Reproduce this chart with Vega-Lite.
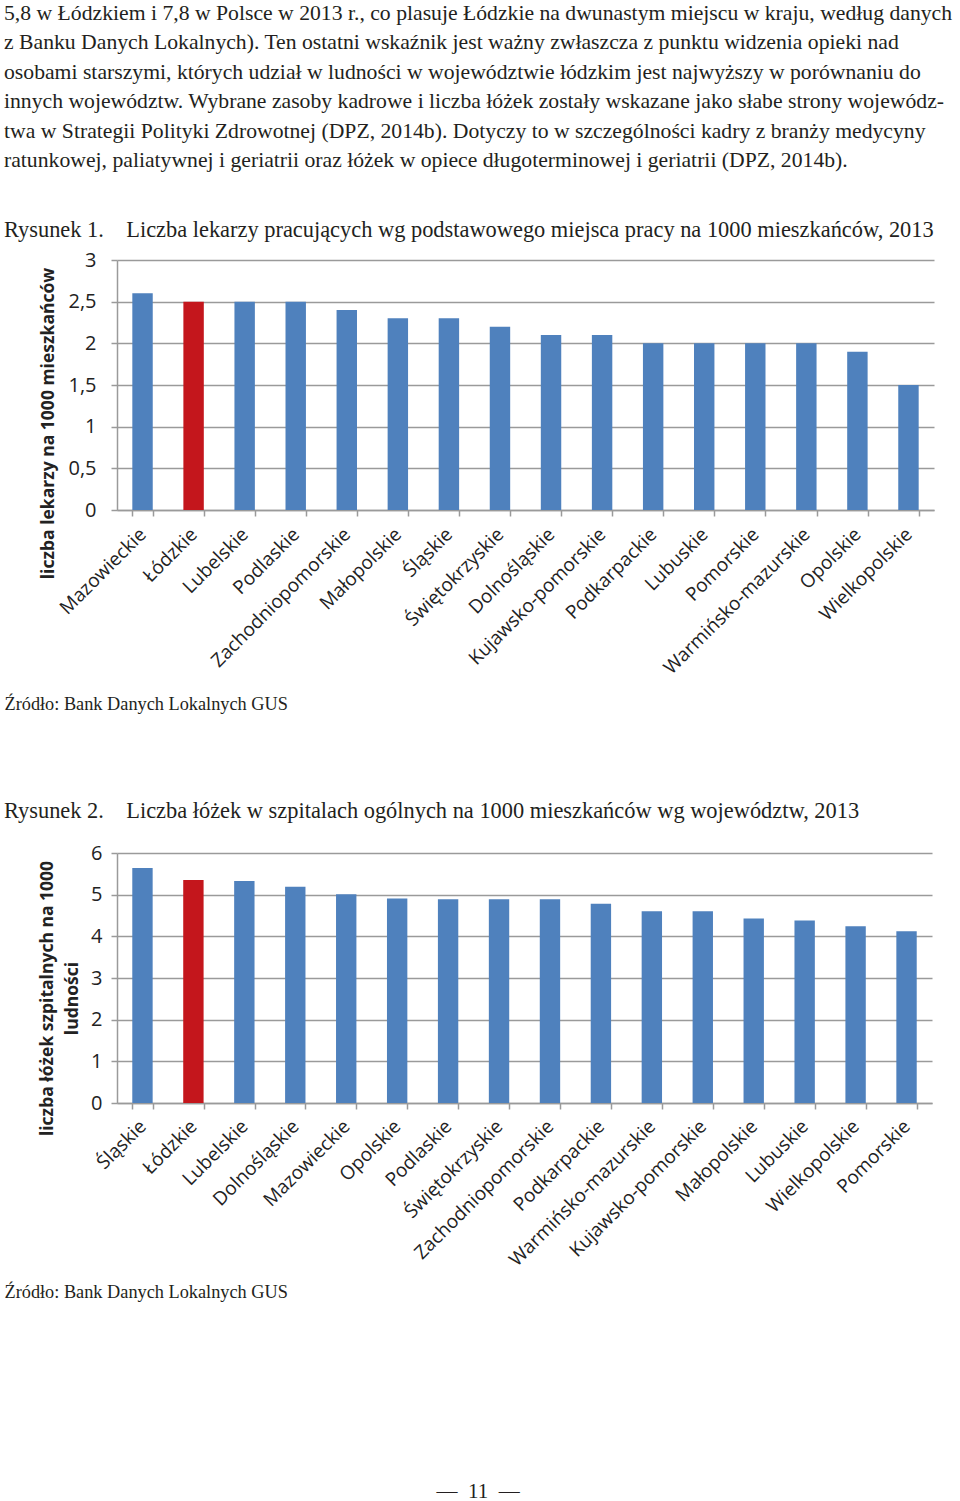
{
  "$schema": "https://vega.github.io/schema/vega-lite/v6.json",
  "padding": {"left": 4, "top": 2, "right": 0, "bottom": 0},
  "background": "white",
  "config": {
    "view": {"stroke": null},
    "axis": {
      "labelFont": "Open Sans", "labelFontSize": 19, "labelColor": "#222222", "labelLimit": 0,
      "titleFont": "Open Sans", "titleFontSize": 17.5, "titleFontWeight": "bold", "titleColor": "#222222",
      "domainColor": "#9a9a9a", "domainWidth": 1.5, "tickColor": "#9a9a9a", "tickWidth": 1.5,
      "gridColor": "#9a9a9a", "gridWidth": 1.5, "gridOpacity": 1
    },
    "title": {"font": "Liberation Serif", "fontWeight": "normal", "color": "#231f20"}
  },
  "title": {"text": "—\u00a0\u00a011\u00a0\u00a0—", "orient": "bottom", "anchor": "middle", "offset": 181, "fontSize": 21, "font": "Liberation Serif", "fontWeight": "normal"},
  "vconcat": [
    {
      "title": {
        "text": [
          "5,8 w Łódzkiem i 7,8 w Polsce w 2013 r., co plasuje Łódzkie na dwunastym miejscu w kraju, według danych",
          "z Banku Danych Lokalnych). Ten ostatni wskaźnik jest ważny zwłaszcza z punktu widzenia opieki nad",
          "osobami starszymi, których udział w ludności w województwie łódzkim jest najwyższy w porównaniu do",
          "innych województw. Wybrane zasoby kadrowe i liczba łóżek zostały wskazane jako słabe strony wojewódz-",
          "twa w Strategii Polityki Zdrowotnej (DPZ, 2014b). Dotyczy to w szczególności kadry z branży medycyny",
          "ratunkowej, paliatywnej i geriatrii oraz łóżek w opiece długoterminowej i geriatrii (DPZ, 2014b)."
        ],
        "anchor": "start", "orient": "top", "fontSize": 21.7, "lineHeight": 29.5, "offset": 47,
        "font": "Liberation Serif", "fontWeight": "normal"
      },
      "spacing": 86,
      "vconcat": [
        {
          "width": 817, "height": 250,
          "title": {"text": "Rysunek 1.\u00a0\u00a0\u00a0 Liczba lekarzy pracujących wg podstawowego miejsca pracy na 1000 mieszkańców, 2013", "anchor": "start", "fontSize": 22.4, "offset": 8.5},
          "data": {"values": [
            {"woj": "Mazowieckie", "v": 2.6},
            {"woj": "Łódzkie", "v": 2.5},
            {"woj": "Lubelskie", "v": 2.5},
            {"woj": "Podlaskie", "v": 2.5},
            {"woj": "Zachodniopomorskie", "v": 2.4},
            {"woj": "Małopolskie", "v": 2.3},
            {"woj": "Śląskie", "v": 2.3},
            {"woj": "Świętokrzyskie", "v": 2.2},
            {"woj": "Dolnośląskie", "v": 2.1},
            {"woj": "Kujawsko-pomorskie", "v": 2.1},
            {"woj": "Podkarpackie", "v": 2.0},
            {"woj": "Lubuskie", "v": 2.0},
            {"woj": "Pomorskie", "v": 2.0},
            {"woj": "Warmińsko-mazurskie", "v": 2.0},
            {"woj": "Opolskie", "v": 1.9},
            {"woj": "Wielkopolskie", "v": 1.5}
          ]},
          "mark": {"type": "bar"},
          "encoding": {
            "x": {"field": "woj", "type": "nominal", "sort": null,
              "scale": {"paddingInner": 0.6, "paddingOuter": 0.3},
              "axis": {"labelAngle": -45, "labelAlign": "right", "labelBaseline": "middle", "labelPadding": 15, "tickSize": 6, "tickBand": "extent",
                "title": "Źródło: Bank Danych Lokalnych GUS", "titleX": -113, "titleY": 194, "titleAlign": "left", "titleBaseline": "middle", "titleAnchor": "start",
                "titleFont": "Liberation Serif", "titleFontSize": 18.3, "titleFontWeight": "normal", "titleColor": "#231f20"}},
            "y": {"field": "v", "type": "quantitative", "scale": {"domain": [0, 3]},
              "axis": {"values": [0, 0.5, 1, 1.5, 2, 2.5, 3], "labelExpr": "replace(format(datum.value, '~g'), '.', ',')", "labelFontSize": 20, "tickSize": 6, "labelPadding": 15,
                "title": "liczba lekarzy na 1000 mieszkańców", "titleAngle": -90, "titleX": -69, "titleY": 163, "titleAlign": "center", "titleBaseline": "middle"}},
            "color": {"condition": {"test": "datum.woj === 'Łódzkie'", "value": "#C4161C"}, "value": "#4F81BD"}
          }
        },
        {
          "width": 815, "height": 250,
          "title": {"text": "Rysunek 2.\u00a0\u00a0\u00a0 Liczba łóżek w szpitalach ogólnych na 1000 mieszkańców wg województw, 2013", "anchor": "start", "fontSize": 22.4, "offset": 21},
          "data": {"values": [
            {"woj": "Śląskie", "v": 5.64},
            {"woj": "Łódzkie", "v": 5.35},
            {"woj": "Lubelskie", "v": 5.33},
            {"woj": "Dolnośląskie", "v": 5.19},
            {"woj": "Mazowieckie", "v": 5.01},
            {"woj": "Opolskie", "v": 4.91},
            {"woj": "Podlaskie", "v": 4.89},
            {"woj": "Świętokrzyskie", "v": 4.89},
            {"woj": "Zachodniopomorskie", "v": 4.89},
            {"woj": "Podkarpackie", "v": 4.78},
            {"woj": "Warmińsko-mazurskie", "v": 4.6},
            {"woj": "Kujawsko-pomorskie", "v": 4.6},
            {"woj": "Małopolskie", "v": 4.43},
            {"woj": "Lubuskie", "v": 4.38},
            {"woj": "Wielkopolskie", "v": 4.24},
            {"woj": "Pomorskie", "v": 4.12}
          ]},
          "mark": {"type": "bar"},
          "encoding": {
            "x": {"field": "woj", "type": "nominal", "sort": null,
              "scale": {"paddingInner": 0.6, "paddingOuter": 0.3},
              "axis": {"labelAngle": -45, "labelAlign": "right", "labelBaseline": "middle", "labelPadding": 14, "tickSize": 6, "tickBand": "extent",
                "title": "Źródło: Bank Danych Lokalnych GUS", "titleX": -113, "titleY": 189, "titleAlign": "left", "titleBaseline": "middle", "titleAnchor": "start",
                "titleFont": "Liberation Serif", "titleFontSize": 18.3, "titleFontWeight": "normal", "titleColor": "#231f20"}},
            "y": {"field": "v", "type": "quantitative", "scale": {"domain": [0, 6]},
              "axis": {"values": [0, 1, 2, 3, 4, 5, 6], "labelFontSize": 20, "tickSize": 6, "labelPadding": 9,
                "title": ["liczba łóżek szpitalnych na 1000", "ludności"], "titleLineHeight": 25, "titleAngle": -90, "titleX": -70, "titleY": 145, "titleAlign": "center", "titleBaseline": "middle"}},
            "color": {"condition": {"test": "datum.woj === 'Łódzkie'", "value": "#C4161C"}, "value": "#4F81BD"}
          }
        }
      ]
    }
  ]
}
